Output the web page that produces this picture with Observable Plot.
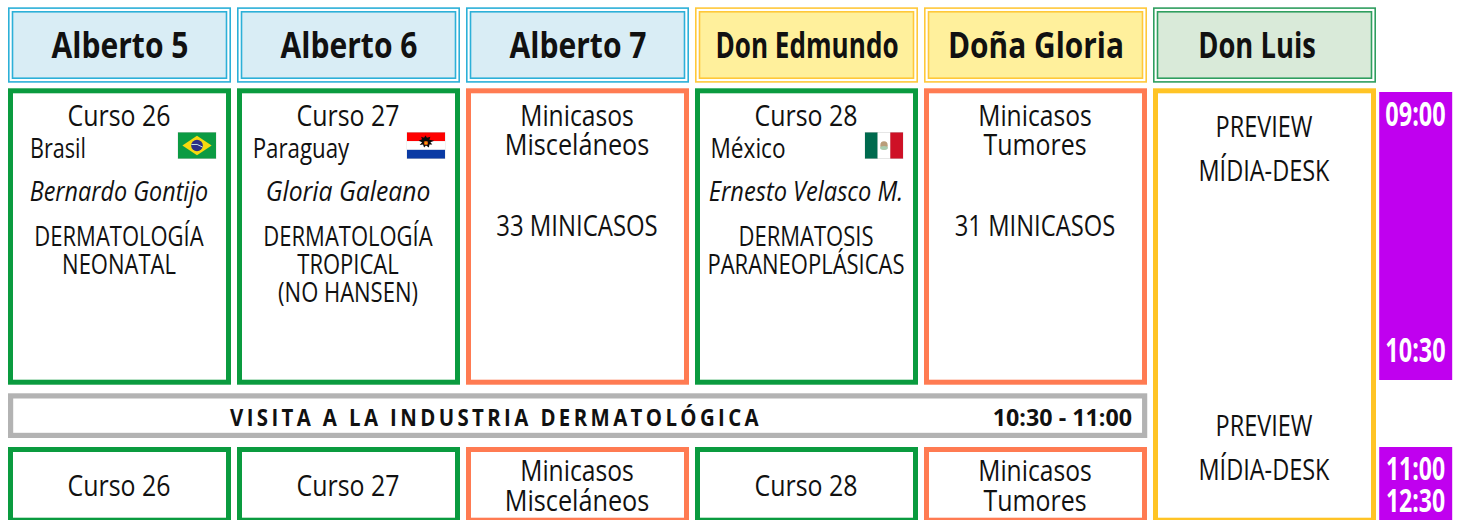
<!DOCTYPE html>
<html><head><meta charset="utf-8">
<style>html,body{margin:0;padding:0;background:#fff;overflow:hidden}svg{display:block}</style>
<script src="https://cdn.jsdelivr.net/npm/d3@7"></script>
<script src="https://cdn.jsdelivr.net/npm/@observablehq/plot@0.6"></script>
</head><body><script>
// ---- data ----
const rooms = ["Alberto 5","Alberto 6","Alberto 7","Don Edmundo","Doña Gloria","Don Luis"];
const timeColumn = "Hora";
const courseRooms = ["Alberto 5","Alberto 6","Don Edmundo"];
const courseNames = ["Curso 26","Curso 27","Curso 28"];
const countries = ["Brasil","Paraguay","México"];
const directors = ["Bernardo Gontijo","Gloria Galeano","Ernesto Velasco M."];
const topicLine1 = ["DERMATOLOGÍA","DERMATOLOGÍA","DERMATOSIS"];
const topicLine2 = ["NEONATAL","TROPICAL","PARANEOPLÁSICAS"];
const topicLine3 = ["","(NO HANSEN)",""];
const miniRooms = ["Alberto 7","Doña Gloria"];
const miniLine1 = ["Minicasos","Minicasos"];
const miniLine2 = ["Misceláneos","Tumores"];
const miniCounts = ["33 MINICASOS","31 MINICASOS"];
const previewLine1 = "PREVIEW";
const previewLine2 = "MÍDIA-DESK";
const visitLabel = "VISITA A LA INDUSTRIA DERMATOLÓGICA";
const visitTime = "10:30 - 11:00";
const sessionStart = 540, firstEnd = 630, secondStart = 660, secondEnd = 750; // minutes of the day
const timeLabels = ["09:00","10:30","11:00","12:30"];

// ---- layout ----
const FONT = "'Open Sans', 'Noto Sans', sans-serif";
const STEP = 229.06, LEFT = 4.4;
const rowsOf = (rs, ts) => rs.map((room, i) => ({room, text: ts[i]})).filter(d => d.text);
const flagSvg = inner => "data:image/svg+xml," + encodeURIComponent(
  `<svg xmlns="http://www.w3.org/2000/svg" viewBox="0 0 39 27" preserveAspectRatio="none"><rect width="39" height="27" fill="#ccc"/><g transform="translate(.5 .5) scale(.974 .963)">${inner}</g></svg>`);
const flags = [
  {room:"Alberto 5", src: flagSvg(`<rect width="39" height="27" fill="#0b9b43"/><path d="M19.5 3.5 34.5 13.5 19.5 23.5 4.5 13.5z" fill="#f7d90f"/><circle cx="19.5" cy="13.5" r="6" fill="#2c2f86"/><path d="M13.8 12.5q6-1.5 11.4 2.6" stroke="#dfe" stroke-width=".9" fill="none"/>`)},
  {room:"Alberto 6", src: flagSvg(`<rect width="39" height="9" fill="#fe0000"/><rect y="9" width="39" height="9" fill="#fff"/><rect y="18" width="39" height="9" fill="#0a3aa4"/><path d="M19 3 20.500 5.500 24 4.500 23 7.500 28 8.500 24 10 26 12.500 23 12.500 22.500 15.500 19.500 13.500 17.500 15.500 16.500 12.500 13 13 15.500 10 12 8.500 15.500 7 14.500 4.500 17.500 5.500z" fill="#0b0b0b"/><circle cx="19.500" cy="11" r="2.200" fill="#f0c000"/><circle cx="19.500" cy="11" r="1.600" fill="none" stroke="#e02020" stroke-width=".8"/>`)},
  {room:"Don Edmundo", src: flagSvg(`<rect width="13" height="27" fill="#006a4e"/><rect x="13" width="13" height="27" fill="#fff"/><rect x="26" width="13" height="27" fill="#ce1126"/><ellipse cx="19.500" cy="13.500" rx="3.800" ry="4.300" fill="#b99d7a"/><ellipse cx="19.500" cy="16" rx="4" ry="2" fill="#a8cdb0"/>`)}
];
// horizontal squeeze per text, tuned to the reference's narrower typeface
const squeeze = {
  "Alberto 5": .835, "Alberto 6": .835, "Alberto 7": .835, "Don Edmundo": .725, "Doña Gloria": .83, "Don Luis": .76,
  "Brasil": .8, "Paraguay": .825, "México": .84,
  "Bernardo Gontijo": .865, "Gloria Galeano": .915, "Ernesto Velasco M.": .875,
  "Minicasos": .85, "Misceláneos": .87,
  "33 MINICASOS": .825, "31 MINICASOS": .82
};
const condense = (sx, spacing) => (index, scales, values, dims, ctx, next) => {
  const g = next(index, scales, values, dims, ctx);
  d3.select(g).selectAll("text").each(function() {
    const t = this.getAttribute("transform") || "";
    const s = squeeze[this.textContent] ?? sx;
    this.setAttribute("transform", `${t} scale(${s},1)`);
    if (spacing) this.style.letterSpacing = spacing;
  });
  return g;
};
const label = (rows, {at = sessionStart, dy, dx = -1, size, sx = .86, weight = 400, italic = false, anchor = "middle", fill = "#111", spacing}) =>
  Plot.text(rows, {x: "room", y: () => at, text: "text", dx, dy, fontSize: size, fontWeight: weight,
    fontStyle: italic ? "italic" : "normal", textAnchor: anchor, fill, fontFamily: FONT, render: condense(sx, spacing)});
const box = (rs, stroke, {y1 = sessionStart, y2 = firstEnd, sw = 5, top = 0, bottom = 0, fill = "#fff", left = 0, right = 0}) =>
  Plot.barY(rs, {x: d => d, y1: () => y1, y2: () => y2, fill, stroke, strokeWidth: sw,
    insetLeft: left + sw / 2, insetRight: right + sw / 2, insetTop: top + sw / 2, insetBottom: bottom + sw / 2});
const header = (rs, stroke, fill) => [
  box(rs, stroke, {y1: 495, y2: sessionStart, sw: 1.6, bottom: 5.6}),
  box(rs, stroke, {y1: 495, y2: sessionStart, sw: 1.6, bottom: 9.3, top: 3.7, left: 3.7, right: 3.7, fill})
];
const GREEN = "#0a9b3f", ORANGE = "#ff7b52", GOLD = "#ffc425", PURPLE = "#c000ef";
const greenRooms = courseRooms, orangeRooms = miniRooms;
const timeRows = t => [{room: timeColumn, text: t}];
const timeBar = (y1, y2, top, bottom) => Plot.barY([timeColumn], {x: d => d, y1: () => y1, y2: () => y2, fill: PURPLE,
  insetLeft: -2.8, insetRight: 152.8, insetTop: top, insetBottom: bottom});

const plot = Plot.plot({
  width: 1462, height: 520, margin: 0,
  style: {background: "#fff", fontFamily: FONT},
  x: {type: "band", domain: [...rooms, timeColumn], range: [LEFT, LEFT + STEP * 7], paddingInner: 6 / STEP, paddingOuter: 3 / STEP, axis: null},
  y: {type: "linear", domain: [495, sessionStart, firstEnd, secondStart, secondEnd], range: [7.3, 88.3, 384.7, 447, 522.7], axis: null},
  marks: [
    ...header(rooms.slice(0, 3), "#2cb0d8", "#d9edf5"),
    ...header(rooms.slice(3, 5), "#ffc83a", "#fff09c"),
    ...header(rooms.slice(5), "#2f9e5f", "#d9ead9"),
    label(rowsOf(rooms.slice(0, 5), rooms), {dy: -42.3, dx: 0, size: 36, weight: 700}),
    label(rowsOf(["Don Luis"], ["Don Luis"]), {dy: -42.3, dx: -8, size: 36, weight: 700}),

    box(greenRooms, GREEN, {}),
    box(orangeRooms, ORANGE, {}),
    box(greenRooms, GREEN, {y1: secondStart, y2: secondEnd}),
    box(orangeRooms, ORANGE, {y1: secondStart, y2: secondEnd}),
    box(["Don Luis"], GOLD, {y1: sessionStart, y2: secondEnd}),
    Plot.barY([rooms[0]], {x: d => d, y1: () => firstEnd, y2: () => secondStart, fill: "#fff", stroke: "#b3b3b3", strokeWidth: 5.2,
      insetLeft: 2.6, insetRight: 2.6 - STEP * 4, insetTop: 11.2, insetBottom: 11.6}),

    label(rowsOf(courseRooms, courseNames), {dy: 28, size: 29}),
    label(rowsOf(courseRooms.slice(0, 1), countries.slice(0, 1)), {dy: 61, dx: -62, size: 27}),
    label(rowsOf(courseRooms.slice(1, 2), countries.slice(1, 2)), {dy: 61, dx: -48, size: 27}),
    label(rowsOf(courseRooms.slice(2), countries.slice(2)), {dy: 61, dx: -59, size: 27}),
    Plot.image(flags, {x: "room", y: () => sessionStart, src: "src", width: 39, height: 27, dx: 77, dy: 56.7, preserveAspectRatio: "none"}),
    label(rowsOf(courseRooms, directors), {dy: 104, size: 27, italic: true}),
    label(rowsOf(courseRooms, topicLine1), {dy: 149, size: 27, sx: .815}),
    label(rowsOf(courseRooms, topicLine2), {dy: 177, size: 27, sx: .815}),
    label(rowsOf(courseRooms, topicLine3), {dy: 205, size: 27, sx: .815}),
    label(rowsOf(miniRooms, miniLine1), {dy: 28, size: 29}),
    label(rowsOf(miniRooms, miniLine2), {dy: 56.5, size: 29}),
    label(rowsOf(miniRooms, miniCounts), {dy: 138, size: 29}),
    label(rowsOf(["Don Luis"], [previewLine1]), {dy: 39, dx: -1, size: 29, sx: .81}),
    label(rowsOf(["Don Luis"], [previewLine2]), {dy: 83, dx: -1, size: 29, sx: .81}),
    label(rowsOf(["Don Luis"], [previewLine1]), {dy: 338, dx: -1, size: 29, sx: .81}),
    label(rowsOf(["Don Luis"], [previewLine2]), {dy: 382, dx: -1, size: 29, sx: .81}),

    label(rowsOf([rooms[0]], [visitLabel]), {at: firstEnd, dy: 33, dx: 110, size: 24, weight: 700, anchor: "start", sx: .85, spacing: ".166em"}),
    label(rowsOf([rooms[4]], [visitTime]), {at: firstEnd, dy: 33, dx: 96, size: 24, weight: 700, anchor: "end", sx: .97}),

    label(rowsOf(courseRooms, courseNames), {at: secondStart, dy: 39, size: 29}),
    label(rowsOf(miniRooms, miniLine1), {at: secondStart, dy: 24, size: 29}),
    label(rowsOf(miniRooms, miniLine2), {at: secondStart, dy: 54, size: 29}),

    timeBar(sessionStart, firstEnd, 3.7, 4.7),
    timeBar(secondStart, secondEnd, 0, 0),
    label(timeRows(timeLabels[0]), {dy: 26, dx: -78.5, size: 34, weight: 700, sx: .69, fill: "#fff"}),
    label(timeRows(timeLabels[1]), {dy: 262, dx: -78.5, size: 34, weight: 700, sx: .69, fill: "#fff"}),
    label(timeRows(timeLabels[2]), {at: secondStart, dy: 22, dx: -78.5, size: 32, weight: 700, sx: .72, fill: "#fff"}),
    label(timeRows(timeLabels[3]), {at: secondStart, dy: 54, dx: -78.5, size: 32, weight: 700, sx: .72, fill: "#fff"})
  ]
});
document.body.appendChild(plot);
</script></body></html>
